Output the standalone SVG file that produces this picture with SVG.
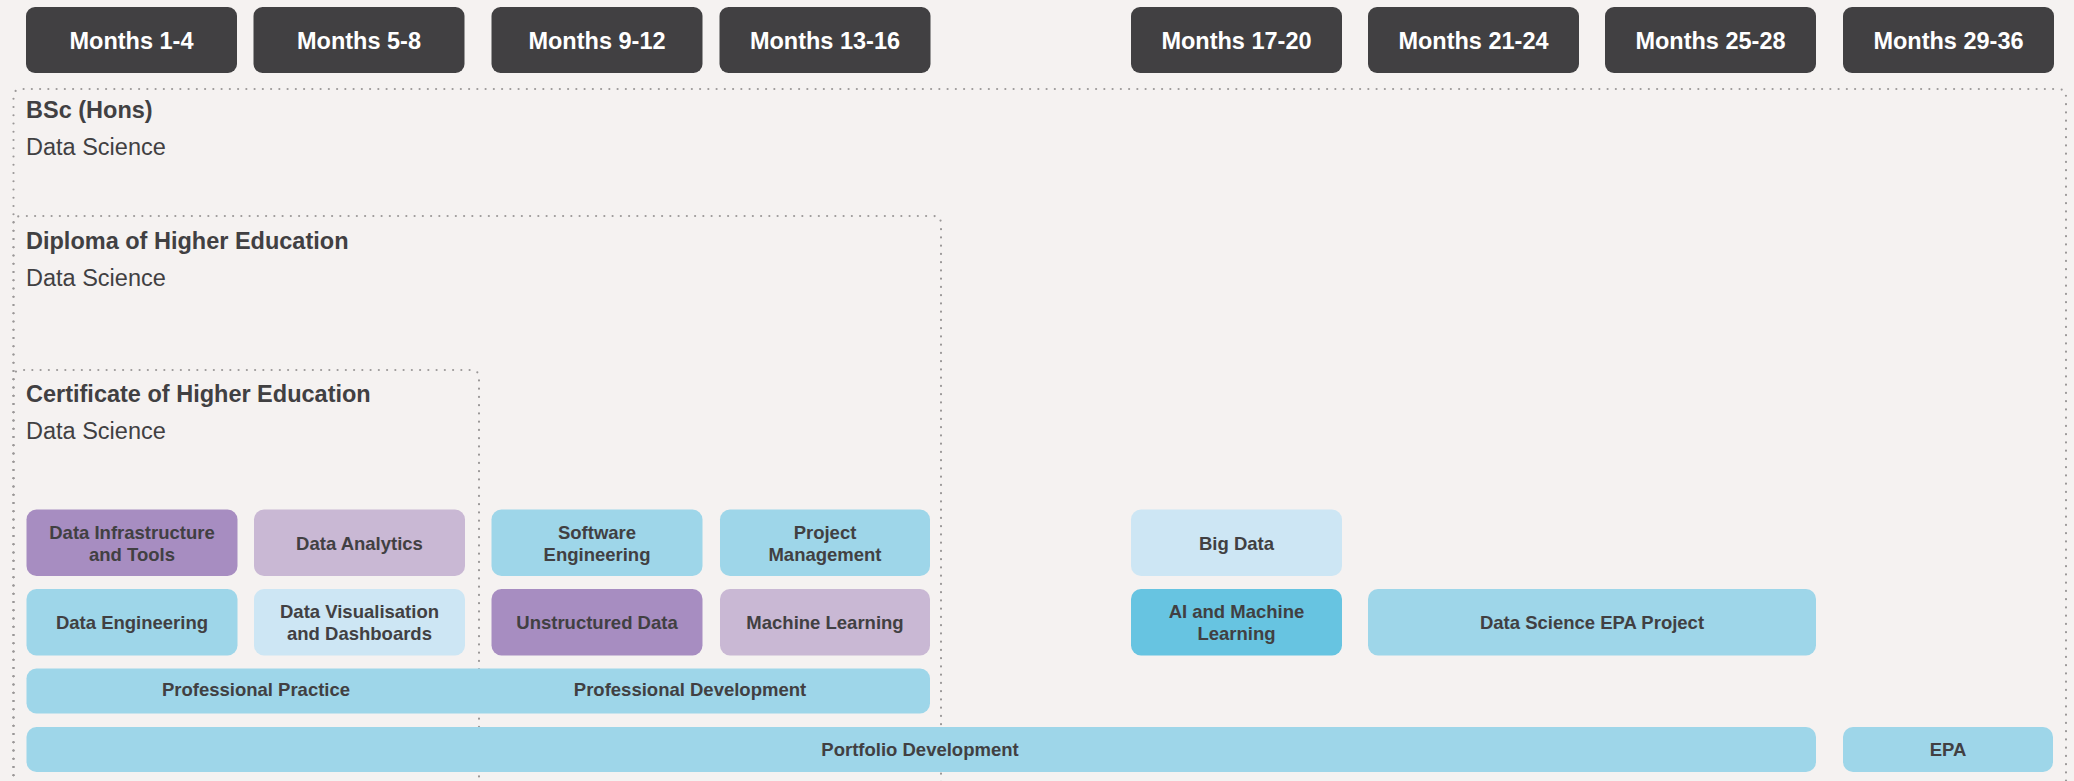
<svg xmlns="http://www.w3.org/2000/svg" width="2074" height="781" viewBox="0 0 2074 781">
<style>
.bg{fill:#F5F2F1}
.hdr rect{fill:#414042}
.hdr text{fill:#FFFFFF;font-family:"Liberation Sans",Arial,sans-serif;font-weight:bold;font-size:23.5px;text-anchor:middle}
.frame{fill:none;stroke:#9B9898;stroke-width:2.2;stroke-dasharray:0 8.25;stroke-linecap:round}
.ttl{fill:#414042;font-family:"Liberation Sans",Arial,sans-serif;font-weight:bold;font-size:23.5px}
.sub{fill:#414042;font-family:"Liberation Sans",Arial,sans-serif;font-size:23.5px}
.mod text{fill:#414042;font-family:"Liberation Sans",Arial,sans-serif;font-weight:bold;font-size:18.5px;text-anchor:middle}
.pd{fill:#A78DC1}
.pl{fill:#C9B8D4}
.bl{fill:#9ED6E9}
.bx{fill:#CDE6F4}
.bm{fill:#67C4E1}
</style>
<rect class="bg" x="0" y="0" width="2074" height="781"/>

<g id="frames">
<path class="frame" d="M13.5 800 V97 Q13.5 89 21.5 89 H2058 Q2066 89 2066 97 V800"/>
<path class="frame" d="M13.5 800 V224 Q13.5 216 21.5 216 H933 Q941 216 941 224 V800"/>
<path class="frame" d="M13.5 800 V378 Q13.5 370 21.5 370 H471 Q479 370 479 378 V800"/>
</g>

<g id="headers">
<g class="hdr" id="h1"><rect x="26" y="7" width="211" height="66" rx="9"/><text x="131.5" y="48.5">Months 1-4</text></g>
<g class="hdr" id="h2"><rect x="253.5" y="7" width="211" height="66" rx="9"/><text x="359" y="48.5">Months 5-8</text></g>
<g class="hdr" id="h3"><rect x="491.5" y="7" width="211" height="66" rx="9"/><text x="597" y="48.5">Months 9-12</text></g>
<g class="hdr" id="h4"><rect x="719.5" y="7" width="211" height="66" rx="9"/><text x="825" y="48.5">Months 13-16</text></g>
<g class="hdr" id="h5"><rect x="1131" y="7" width="211" height="66" rx="9"/><text x="1236.5" y="48.5">Months 17-20</text></g>
<g class="hdr" id="h6"><rect x="1368" y="7" width="211" height="66" rx="9"/><text x="1473.5" y="48.5">Months 21-24</text></g>
<g class="hdr" id="h7"><rect x="1605" y="7" width="211" height="66" rx="9"/><text x="1710.5" y="48.5">Months 25-28</text></g>
<g class="hdr" id="h8"><rect x="1843" y="7" width="211" height="66" rx="9"/><text x="1948.5" y="48.5">Months 29-36</text></g>
</g>

<g id="titles">
<text class="ttl" x="26" y="117.5">BSc (Hons)</text>
<text class="sub" x="26" y="154.5">Data Science</text>
<text class="ttl" x="26" y="248.5">Diploma of Higher Education</text>
<text class="sub" x="26" y="285.5">Data Science</text>
<text class="ttl" x="26" y="401.5">Certificate of Higher Education</text>
<text class="sub" x="26" y="438.5">Data Science</text>
</g>

<g id="m-dit" class="mod"><rect class="pd" x="26.5" y="509.5" width="211" height="66.5" rx="10"/><text x="132" y="538.5">Data Infrastructure</text><text x="132" y="560.5">and Tools</text></g>
<g id="m-da" class="mod"><rect class="pl" x="254" y="509.5" width="211" height="66.5" rx="10"/><text x="359.5" y="549.5">Data Analytics</text></g>
<g id="m-se" class="mod"><rect class="bl" x="491.5" y="509.5" width="211" height="66.5" rx="10"/><text x="597" y="538.5">Software</text><text x="597" y="560.5">Engineering</text></g>
<g id="m-pm" class="mod"><rect class="bl" x="720" y="509.5" width="210" height="66.5" rx="10"/><text x="825" y="538.5">Project</text><text x="825" y="560.5">Management</text></g>
<g id="m-bd" class="mod"><rect class="bx" x="1131" y="509.5" width="211" height="66.5" rx="10"/><text x="1236.5" y="549.5">Big Data</text></g>

<g id="m-de" class="mod"><rect class="bl" x="26.5" y="589" width="211" height="66.5" rx="10"/><text x="132" y="628.5">Data Engineering</text></g>
<g id="m-dv" class="mod"><rect class="bx" x="254" y="589" width="211" height="66.5" rx="10"/><text x="359.5" y="617.5">Data Visualisation</text><text x="359.5" y="639.5">and Dashboards</text></g>
<g id="m-ud" class="mod"><rect class="pd" x="491.5" y="589" width="211" height="66.5" rx="10"/><text x="597" y="628.5">Unstructured Data</text></g>
<g id="m-ml" class="mod"><rect class="pl" x="720" y="589" width="210" height="66.5" rx="10"/><text x="825" y="628.5">Machine Learning</text></g>
<g id="m-aiml" class="mod"><rect class="bm" x="1131" y="589" width="211" height="66.5" rx="10"/><text x="1236.5" y="617.5">AI and Machine</text><text x="1236.5" y="639.5">Learning</text></g>
<g id="m-epap" class="mod"><rect class="bl" x="1368" y="589" width="448" height="66.5" rx="10"/><text x="1592" y="628.5">Data Science EPA Project</text></g>

<g id="m-prof" class="mod"><rect class="bl" x="26.5" y="668.5" width="903.5" height="45" rx="10"/><text x="256" y="695.5">Professional Practice</text><text x="690" y="695.5">Professional Development</text></g>
<g id="m-port" class="mod"><rect class="bl" x="26.5" y="727" width="1789.5" height="45" rx="10"/><text x="920" y="756">Portfolio Development</text></g>
<g id="m-epa" class="mod"><rect class="bl" x="1843" y="727" width="210" height="45" rx="10"/><text x="1948" y="756">EPA</text></g>
</svg>
